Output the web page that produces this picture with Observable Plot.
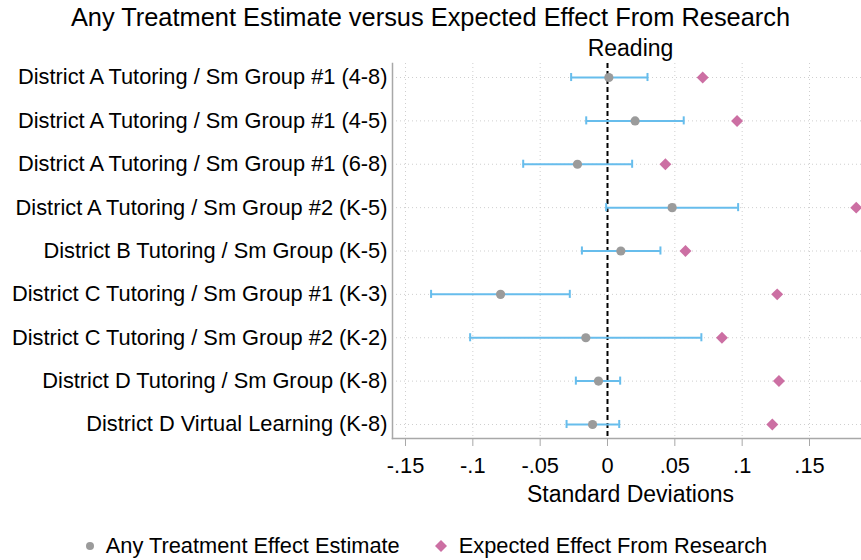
<!DOCTYPE html>
<html>
<head>
<meta charset="utf-8">
<script src="https://cdn.jsdelivr.net/npm/d3@7"></script>
<script src="https://cdn.jsdelivr.net/npm/@observablehq/plot@0.6"></script>
<style>
  html, body { margin: 0; padding: 0; background: #fff; overflow: hidden; }
  body { width: 861px; height: 560px; font-family: "Liberation Sans", Arial, sans-serif; color: #000; }
  #title { height: 36px; line-height: 34px; font-size: 25.4px; text-align: center; white-space: nowrap; }
  #legend { height: 60px; display: flex; align-items: center; justify-content: center; font-size: 21.8px; white-space: nowrap; padding-right: 8px; }
  #legend svg { display: block; }
  .item { display: flex; align-items: center; }
</style>
</head>
<body>
<div id="title">Any Treatment Estimate versus Expected Effect From Research</div>
<div id="chart"></div>
<div id="legend">
  <div class="item"><svg width="8" height="8" style="margin-right:12px"><circle cx="4" cy="4" r="4" fill="#9b9b9b"/></svg><span>Any Treatment Effect Estimate</span></div>
  <div class="item" style="margin-left:35px"><svg width="12" height="12" style="margin-right:12px"><path d="M6,0L12,6L6,12L0,6Z" fill="#cc6fa3"/></svg><span>Expected Effect From Research</span></div>
</div>
<script>
const labels = [
  "District A Tutoring / Sm Group #1 (4-8)",
  "District A Tutoring / Sm Group #1 (4-5)",
  "District A Tutoring / Sm Group #1 (6-8)",
  "District A Tutoring / Sm Group #2 (K-5)",
  "District B Tutoring / Sm Group (K-5)",
  "District C Tutoring / Sm Group #1 (K-3)",
  "District C Tutoring / Sm Group #2 (K-2)",
  "District D Tutoring / Sm Group (K-8)",
  "District D Virtual Learning (K-8)"
];
const estimates = [0.001, 0.0205, -0.0223, 0.048, 0.0099, -0.0794, -0.0161, -0.0067, -0.0111];
const ciLow     = [-0.027, -0.0158, -0.0626, -0.001, -0.019, -0.131, -0.102, -0.0235, -0.0304];
const ciHigh    = [0.0297, 0.0566, 0.0183, 0.097, 0.0393, -0.028, 0.0697, 0.0094, 0.0087];
const expected  = [0.0707, 0.0962, 0.043, 0.1847, 0.0579, 0.126, 0.085, 0.1273, 0.1224];
const xTicks = [-0.15, -0.1, -0.05, 0, 0.05, 0.1, 0.15];

const data = labels.map((label, i) => ({label, est: estimates[i], lo: ciLow[i], hi: ciHigh[i], exp: expected[i]}));

const fmt = d => {
  const v = Math.round(d * 100) / 100;
  if (v === 0) return "0";
  return String(v).replace("0.", ".");
};

const blue = "#67bdec";
const gridStyle = {stroke: "#cfcfcf", strokeOpacity: 1, strokeDasharray: "1,3"};

const chart = Plot.plot({
  width: 861,
  height: 480,
  marginTop: 27,
  marginBottom: 78,
  marginLeft: 392,
  marginRight: 0,
  style: {fontFamily: "'Liberation Sans', Arial, sans-serif", fontSize: "21.8px", color: "#000", background: "#fff", overflow: "visible"},
  x: {domain: [-0.15965, 0.18861], ticks: xTicks},
  y: {type: "band", domain: labels, paddingInner: 0.5, paddingOuter: 0.073, round: false},
  marks: [
    Plot.gridX(xTicks, {...gridStyle}),
    Plot.gridY(labels, {...gridStyle}),
    Plot.axisY({tickSize: 0, tickPadding: 5, label: null, fontSize: 21.8, fill: "#000"}),
    Plot.axisX(xTicks, {tickSize: 8, tickPadding: 11, tickFormat: fmt, label: null, fontSize: 21.8, stroke: "#a8a8a8", fill: "#000"}),
    Plot.frame({anchor: "left", stroke: "#a8a8a8", strokeWidth: 1.5}),
    Plot.frame({anchor: "bottom", stroke: "#a8a8a8", strokeWidth: 1.5}),
    Plot.ruleX([0], {stroke: "#000", strokeWidth: 2, strokeDasharray: "5,3"}),
    Plot.ruleY(data, {y: "label", x1: "lo", x2: "hi", stroke: blue, strokeWidth: 2}),
    Plot.tickX(data, {x: "lo", y: "label", stroke: blue, strokeWidth: 2, insetTop: 6.8, insetBottom: 6.8}),
    Plot.tickX(data, {x: "hi", y: "label", stroke: blue, strokeWidth: 2, insetTop: 6.8, insetBottom: 6.8}),
    Plot.dot(data, {x: "est", y: "label", r: 4.6, fill: "#9b9b9b", stroke: null}),
    Plot.dot(data, {x: "exp", y: "label", r: 5.4, symbol: "diamond2", fill: "#cc6fa3", stroke: null}),
    Plot.text(["Reading"], {frameAnchor: "top", dy: -15, dx: 3.5, fontSize: 23, lineAnchor: "middle", fill: "#000"}),
    Plot.text(["Standard Deviations"], {frameAnchor: "bottom", dy: 56, dx: 3.5, fontSize: 23, lineAnchor: "middle", fill: "#000"})
  ]
});
document.getElementById("chart").appendChild(chart);
</script>
</body>
</html>
